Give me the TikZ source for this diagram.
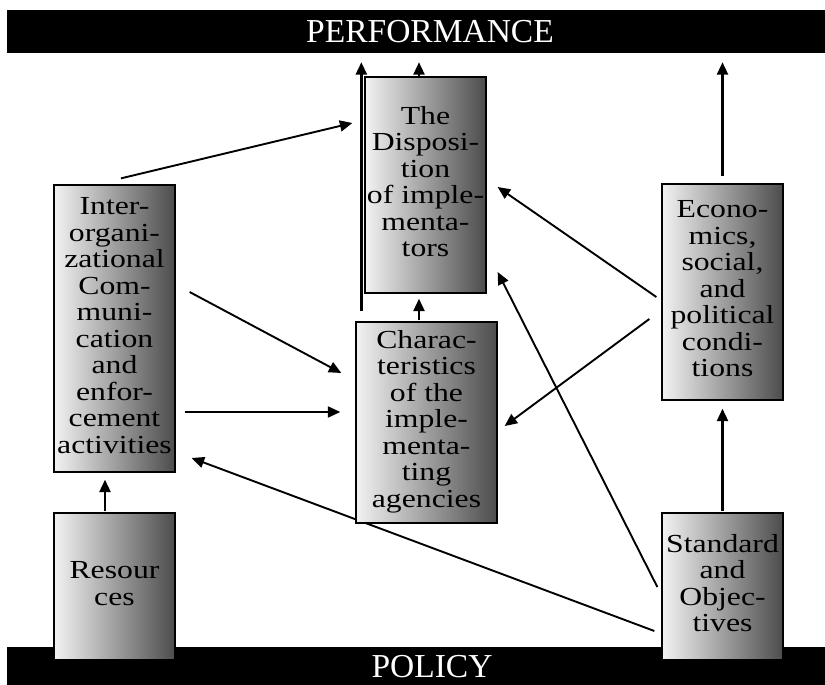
\documentclass[tikz,border=0pt]{standalone}
\usepackage{fontspec}
\setmainfont{Liberation Serif}
\usepackage{graphicx}
\usetikzlibrary{arrows.meta,calc,backgrounds}

% stacked, centred lines of a factor label, set slightly wide
\newcommand\stackedlines[1]{\scalebox{1.22}[1]{\begin{tabular}{@{}c@{}}#1\end{tabular}}}

\tikzset{
  factor/.style={draw=black, line width=1.3pt, left color=black!5, right color=black!70,
    minimum width=121pt, inner sep=0pt, font=\fontsize{26}{26.5}\selectfont},
  bar/.style={fill=black, draw=none, inner sep=0pt, minimum width=818pt, minimum height=43pt},
  bartext/.style={text=white, inner sep=0pt, font=\fontsize{33.5}{35}\selectfont},
  link/.style={line width=1.9pt, -{Triangle[length=12.5pt,width=11pt]}},
  uplink/.style={line width=2.5pt, -{Triangle[length=12.5pt,width=11pt]}},
}

\begin{document}
\begin{tikzpicture}[x=1pt,y=-1pt]
  \useasboundingbox (0,0) rectangle (825,685);

  % the two bands
  \node[bar] (perf) at (416,31.5) {};
  \node[bartext] (perftext) at (430,32) {PERFORMANCE};
  \node[bar, minimum height=38pt] (policy) at (416,666) {};
  \node[bartext] (policytext) at (432,667) {POLICY};

  % the factors
  \node[factor, minimum height=216pt] (disp) at (425.5,185)
    {\stackedlines{The\\Disposi-\\tion\\of imple-\\menta-\\tors}};
  \node[factor, minimum height=287pt] (inter) at (114.5,328.5)
    {\stackedlines{Inter-\\organi-\\zational\\Com-\\muni-\\cation\\and\\enfor-\\cement\\activities}};
  \node[factor, minimum width=141pt, minimum height=201pt] (char) at (426.5,422.5)
    {\stackedlines{Charac-\\teristics\\of the\\imple-\\menta-\\ting\\agencies}};
  \node[factor, minimum height=216pt] (econ) at (722.5,292)
    {\stackedlines{Econo-\\mics,\\social,\\and\\political\\condi-\\tions}};
  \node[factor, minimum height=147pt] (res) at (114.5,586.5)
    {\stackedlines{Resour\\ces}};
  \node[factor, minimum height=147pt] (std) at (722.5,586.5)
    {\stackedlines{Standard\\and\\Objec-\\tives}};

  \begin{scope}[on background layer]
    % links between factors
    \draw[link] ($(inter.north)+(6.5,-6)$) -- ($(disp.west)+(-12,-62)$);
    \draw[link] ($(inter.east)+(14,-36.5)$) -- ($(char.west)+(-14,-49.5)$);
    \draw[link] ($(inter.east)+(9,83.5)$) -- ($(char.west)+(-15,-10.5)$);
    \draw[uplink] ($(res.north)+(-9.5,-1)$) -- ($(inter.south)+(-9.5,7)$);
    \draw[link] ($(std.west)+(-7,44.5)$) -- ($(inter.east)+(16,129.5)$);
    \draw[link] ($(std.west)+(-4,0.5)$) -- ($(disp.east)+(11,87)$);
    \draw[uplink] ($(std.north)+(0,-1)$) -- ($(econ.south)+(0,8)$);
    \draw[link] ($(econ.west)+(-5,5)$) -- ($(disp.east)+(11,2)$);
    \draw[link] ($(econ.west)+(-12,27)$) -- ($(char.east)+(7,3.5)$);
    \draw[uplink] ($(char.north)+(-7.5,-1)$) -- ($(disp.south)+(-6.5,5)$);
    % links into performance
    \draw[uplink] ($(econ.north)+(0,-7)$) -- ($(perf.south -| econ.north)+(0,9)$);
    \draw[uplink] ($(disp.north)+(-6.5,0)$) -- ($(perf.south -| disp.north)+(-6.5,9)$);
    \draw[uplink] ($(char.north west)+(6,-10)$) -- ($(perf.south -| char.north west)+(6,9)$);
  \end{scope}
\end{tikzpicture}
\end{document}
